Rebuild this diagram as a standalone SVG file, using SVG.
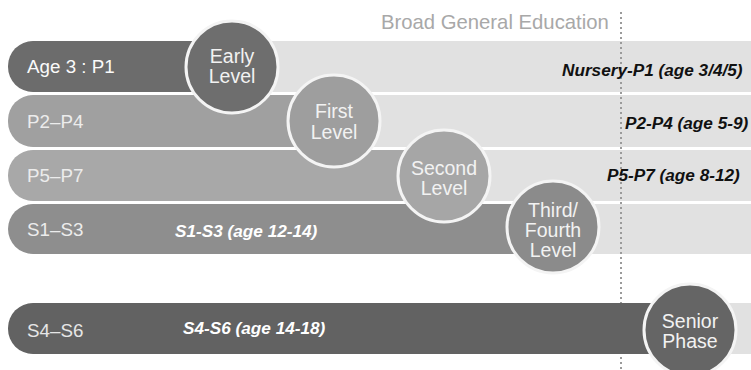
<svg xmlns="http://www.w3.org/2000/svg" width="751" height="370" viewBox="0 0 751 370">
<style>
.band{fill:#e1e1e1}
.lab{font-family:"Liberation Sans",Arial,sans-serif;font-size:18.8px}
.rl{font-family:"Liberation Sans",Arial,sans-serif;font-size:17.2px;font-weight:bold;font-style:italic;fill:#111}
.wl{font-family:"Liberation Sans",Arial,sans-serif;font-size:17.2px;font-weight:bold;font-style:italic;fill:#fff}
.ct{font-family:"Liberation Sans",Arial,sans-serif;font-size:19.5px;fill:#f2f2f2;text-anchor:middle}
.circ{stroke:#f4f4f4;stroke-width:3}
</style>
<rect width="751" height="370" fill="#fff"/>
<text x="381" y="29" font-family="Liberation Sans, Arial, sans-serif" font-size="20.3" fill="#a8a8a8">Broad General Education</text>
<g id="bands">
<rect class="band" x="30" y="41" width="721" height="51"/>
<rect class="band" x="30" y="95" width="721" height="52"/>
<rect class="band" x="30" y="150" width="721" height="51"/>
<rect class="band" x="30" y="204" width="721" height="50"/>
<rect class="band" x="30" y="303" width="721" height="51"/>
</g>
<g id="connectors">
<line x1="621" y1="12" x2="621" y2="370" stroke="#9a9a9a" stroke-width="2" stroke-dasharray="2,3"/>
</g>
<g id="row-early">
<rect x="8" y="41" width="240" height="51" rx="25" fill="#6c6c6c"/>
<text class="lab" x="27" y="73" fill="#fafafa">Age 3 : P1</text>
<text class="rl" x="562" y="76">Nursery-P1 (age 3/4/5)</text>
</g>
<g id="row-first">
<rect x="8" y="95" width="340" height="52" rx="25" fill="#a0a0a0"/>
<text class="lab" x="27" y="128" fill="#ececec">P2–P4</text>
<text class="rl" x="625" y="129">P2-P4 (age 5-9)</text>
</g>
<g id="row-second">
<rect x="8" y="150" width="450" height="51" rx="25" fill="#a8a8a8"/>
<text class="lab" x="27" y="182" fill="#ececec">P5–P7</text>
<text class="rl" x="607" y="181">P5-P7 (age 8-12)</text>
</g>
<g id="row-third">
<rect x="8" y="204" width="560" height="50" rx="25" fill="#8e8e8e"/>
<text class="lab" x="27" y="236" fill="#ececec">S1–S3</text>
<text class="wl" x="175" y="237">S1-S3 (age 12-14)</text>
</g>
<g id="row-senior">
<rect x="8" y="303" width="700" height="51" rx="25" fill="#626262"/>
<text class="lab" x="27" y="337" fill="#e6e6e6">S4–S6</text>
<text class="wl" x="183" y="334">S4-S6 (age 14-18)</text>
</g>
<g id="early-level">
<circle class="circ" cx="232" cy="67" r="46" fill="#6e6e6e"/>
<text class="ct" x="232" y="63">Early</text>
<text class="ct" x="232" y="83">Level</text>
</g>
<g id="first-level">
<circle class="circ" cx="334" cy="121" r="46" fill="#9e9e9e"/>
<text class="ct" x="334" y="118">First</text>
<text class="ct" x="334" y="139">Level</text>
</g>
<g id="second-level">
<circle class="circ" cx="444" cy="176" r="46" fill="#a6a6a6"/>
<text class="ct" x="444" y="175">Second</text>
<text class="ct" x="444" y="195">Level</text>
</g>
<g id="third-fourth-level">
<circle class="circ" cx="553" cy="227" r="46" fill="#8b8b8b"/>
<text class="ct" x="553" y="217">Third/</text>
<text class="ct" x="553" y="237">Fourth</text>
<text class="ct" x="553" y="257">Level</text>
</g>
<g id="senior-phase">
<circle class="circ" cx="690" cy="330" r="46" fill="#656565"/>
<text class="ct" x="690" y="328">Senior</text>
<text class="ct" x="690" y="348">Phase</text>
</g>
</svg>
